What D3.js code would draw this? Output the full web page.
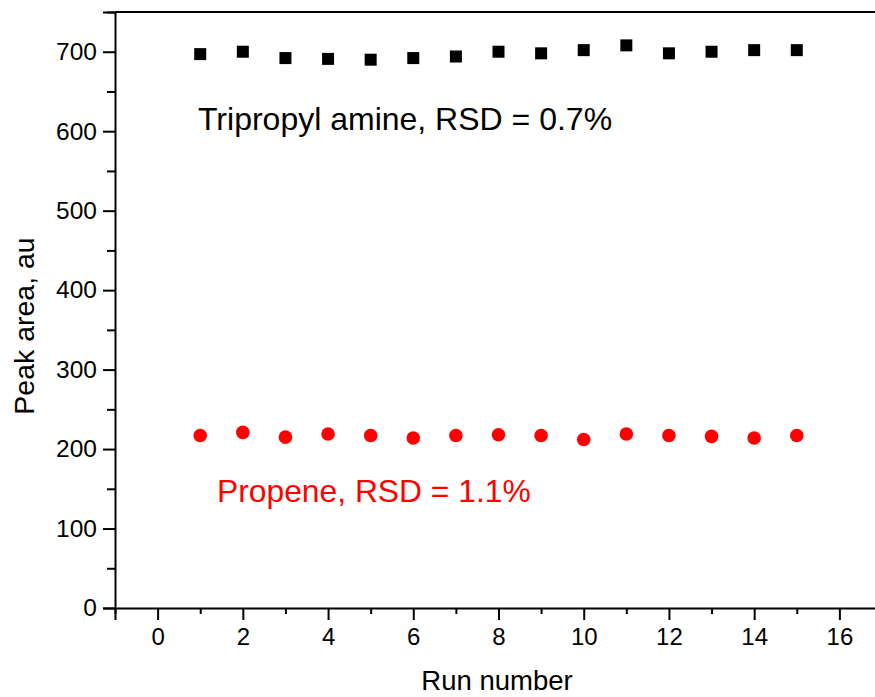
<!DOCTYPE html>
<html><head><meta charset="utf-8">
<script src="https://cdn.jsdelivr.net/npm/d3@7/dist/d3.min.js"></script>
<style>body{margin:0;background:#fff}svg{display:block}text{font-family:"Liberation Sans",Arial,sans-serif}</style>
</head><body><svg id="c" width="875" height="697"></svg>
<script>
const runs = [1,2,3,4,5,6,7,8,9,10,11,12,13,14,15];
const tripropylAmine = [697,700,692,691,690,692,694,700,698,702,708,698,700,702,702];
const propene = [217,221,215,219,217,214,217,218,217,212,219,217,216,214,217];
const xTicks = [0,2,4,6,8,10,12,14,16];
const yTicks = [0,100,200,300,400,500,600,700];

const svg = d3.select("#c");
const L = 115, R = 882, T = 12, B = 608;
const x = d3.scaleLinear().domain([-1,17]).range([L,R]);
const y = d3.scaleLinear().domain([0,750]).range([B,T]);

// top frame line
svg.append("line").attr("x1",L).attr("x2",875).attr("y1",T).attr("y2",T).attr("stroke","#000").attr("stroke-width",2);

// x axis
const xMinor = d3.range(-1,18,1).filter(v=>v%2!==0);
svg.append("g").attr("transform",`translate(0,${B})`)
  .call(d3.axisBottom(x).tickValues(xMinor).tickSize(6).tickFormat(""))
  .call(g=>{g.select(".domain").remove();g.selectAll("line").attr("stroke-width",2);});
svg.append("g").attr("transform",`translate(0,${B})`)
  .call(d3.axisBottom(x).tickValues(xTicks).tickSize(12).tickPadding(8))
  .call(g=>{g.select(".domain").attr("stroke-width",2);g.selectAll("line").attr("stroke-width",2);
    g.selectAll("text").attr("font-size",24).attr("fill","#000").attr("font-family","Liberation Sans, Arial, sans-serif");});

// y axis
const yMinor = d3.range(50,751,100);
svg.append("g").attr("transform",`translate(${L},0)`)
  .call(d3.axisLeft(y).tickValues(yMinor).tickSize(8).tickFormat(""))
  .call(g=>{g.select(".domain").remove();g.selectAll("line").attr("stroke-width",2);});
svg.append("g").attr("transform",`translate(${L},0)`)
  .call(d3.axisLeft(y).tickValues(yTicks).tickSize(12).tickPadding(6))
  .call(g=>{g.select(".domain").attr("stroke-width",2);g.selectAll("line").attr("stroke-width",2);
    g.selectAll("text").attr("font-size",24.5).attr("fill","#000").attr("font-family","Liberation Sans, Arial, sans-serif");});

// axis titles
svg.append("text").attr("x",497).attr("y",690).attr("text-anchor","middle").attr("font-size",27.5).text("Run number");
svg.append("text").attr("transform","translate(34,326) rotate(-90)").attr("text-anchor","middle").attr("font-size",28.5).text("Peak area, au");

// squares
const s = 12;
svg.append("g").selectAll("rect").data(runs).join("rect")
  .attr("x",(d,i)=>x(d)-s/2).attr("y",(d,i)=>y(tripropylAmine[i])-s/2)
  .attr("width",s).attr("height",s).attr("fill","#000");

// circles
svg.append("g").selectAll("circle").data(runs).join("circle")
  .attr("cx",d=>x(d)).attr("cy",(d,i)=>y(propene[i])).attr("r",6.8).attr("fill","#ff0000");

// annotations
svg.append("text").attr("x",198).attr("y",130).attr("font-size",32).attr("fill","#000").text("Tripropyl amine, RSD = 0.7%");
svg.append("text").attr("x",217).attr("y",502).attr("font-size",31.8).attr("fill","#ff0000").text("Propene, RSD = 1.1%");
</script></body></html>
